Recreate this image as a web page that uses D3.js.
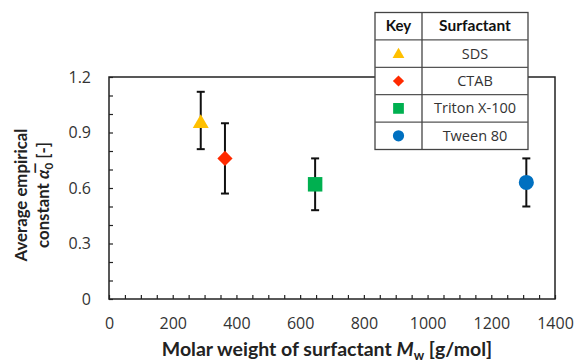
<!DOCTYPE html>
<html><head><meta charset="utf-8">
<script src="https://cdn.jsdelivr.net/npm/d3@7"></script>
<style>body{margin:0;background:#fff}svg{display:block}</style>
</head><body>
<script>
const surfactants = ["SDS", "CTAB", "Triton X-100", "Tween 80"];
const molarWeight = [288, 364, 647, 1310];
const alpha0 = [0.96, 0.76, 0.62, 0.63];
const errLow = [0.15, 0.19, 0.14, 0.13];
const errHigh = [0.16, 0.19, 0.14, 0.13];
const colors = ["#FFC000", "#FF2A00", "#00B050", "#0070C0"];
const shapes = ["triangle", "diamond", "square", "circle"];
const xTicks = [0, 200, 400, 600, 800, 1000, 1200, 1400];
const yTicks = [0, 0.3, 0.6, 0.9, 1.2];

const W = 576, H = 362;
const m = {left: 109, right: 21, top: 77, bottom: 63};
const svg = d3.select("body").append("svg").attr("width", W).attr("height", H);
const x = d3.scaleLinear().domain([0, 1400]).range([m.left, W - m.right]);
const y = d3.scaleLinear().domain([0, 1.2]).range([H - m.bottom, m.top]);
const tickFont = "'Open Sans', 'DejaVu Sans', sans-serif";
const titleFont = "Lato, 'Open Sans', sans-serif";

// frame
svg.append("rect").attr("x", x(0)).attr("y", y(1.2)).attr("width", x(1400) - x(0)).attr("height", y(0) - y(1.2))
  .attr("fill", "none").attr("stroke", "#222").attr("stroke-width", 1.5);

// minor/major ticks inside
const xAx = d3.axisBottom(x).tickValues(d3.range(0, 1401, 50)).tickSize(-4).tickFormat("");
svg.append("g").attr("transform", `translate(0,${y(0)})`).call(xAx)
  .call(g => { g.select(".domain").remove(); g.selectAll("line").attr("stroke", "#222").attr("stroke-width", 1.2); });
const yAx = d3.axisLeft(y).tickValues(d3.range(0, 13).map(d => d / 10)).tickSize(-4).tickFormat("");
svg.append("g").attr("transform", `translate(${x(0)},0)`).call(yAx)
  .call(g => { g.select(".domain").remove(); g.selectAll("line").attr("stroke", "#222").attr("stroke-width", 1.2); });

// tick labels
const xL = d3.axisBottom(x).tickValues(xTicks).tickSize(0).tickPadding(19).tickFormat(d3.format("d"));
svg.append("g").attr("transform", `translate(0,${y(0)})`).call(xL)
  .call(g => { g.select(".domain").remove(); g.selectAll("text").attr("font-family", tickFont).attr("font-size", 16).attr("fill", "#333"); });
const yL = d3.axisLeft(y).tickValues(yTicks).tickSize(0).tickPadding(18).tickFormat(d => d === 0 ? "0" : d3.format(".1f")(d));
svg.append("g").attr("transform", `translate(${x(0)},0)`).call(yL)
  .call(g => { g.select(".domain").remove(); g.selectAll("text").attr("font-family", tickFont).attr("font-size", 16).attr("fill", "#333"); });

// error bars
const data = surfactants.map((s, i) => ({s, x: molarWeight[i], y: alpha0[i], lo: errLow[i], hi: errHigh[i], c: colors[i], sh: shapes[i]}));
const eb = svg.append("g").attr("stroke", "#111").attr("stroke-width", 2);
data.forEach(d => {
  eb.append("line").attr("x1", x(d.x)).attr("x2", x(d.x)).attr("y1", y(d.y - d.lo)).attr("y2", y(d.y + d.hi));
  [d.y - d.lo, d.y + d.hi].forEach(v => eb.append("line").attr("x1", x(d.x) - 4).attr("x2", x(d.x) + 4).attr("y1", y(v)).attr("y2", y(v)));
});

function symbolPath(sh, scale) {
  if (sh === "triangle") return d3.symbol(d3.symbolTriangle, 110 * scale)();
  if (sh === "diamond") return d3.symbol(d3.symbolSquare, 115 * scale)();
  if (sh === "square") return d3.symbol(d3.symbolSquare, 210 * scale)();
  return d3.symbol(d3.symbolCircle, 180 * scale)();
}
svg.append("g").selectAll("path").data(data).join("path")
  .attr("d", d => symbolPath(d.sh, 1))
  .attr("transform", d => `translate(${x(d.x)},${y(d.y) + (d.sh === "triangle" ? 2 : 0)})` + (d.sh === "diamond" ? " rotate(45)" : ""))
  .attr("fill", d => d.c);

// legend table
const lx = 375, ly = 12.5, c1 = 47, c2 = 106, rh = 27.4;
const lg = svg.append("g");
lg.append("rect").attr("x", lx).attr("y", ly).attr("width", c1 + c2).attr("height", rh * 5).attr("fill", "#fff").attr("stroke", "#444").attr("stroke-width", 1.3);
for (let i = 1; i < 5; i++) lg.append("line").attr("x1", lx).attr("x2", lx + c1 + c2).attr("y1", ly + rh * i).attr("y2", ly + rh * i).attr("stroke", "#555").attr("stroke-width", 1.3);
lg.append("line").attr("x1", lx + c1).attr("x2", lx + c1).attr("y1", ly).attr("y2", ly + rh * 5).attr("stroke", "#444").attr("stroke-width", 1.3);
lg.append("text").attr("x", lx + c1 / 2).attr("y", ly + rh / 2 + 5).attr("text-anchor", "middle").attr("font-family", titleFont).attr("font-weight", "bold").attr("font-size", 15).attr("fill", "#111").text("Key");
lg.append("text").attr("x", lx + c1 + c2 / 2).attr("y", ly + rh / 2 + 5).attr("text-anchor", "middle").attr("font-family", titleFont).attr("font-weight", "bold").attr("font-size", 15.5).attr("fill", "#111").text("Surfactant");
data.forEach((d, i) => {
  const cy = ly + rh * (i + 1.5);
  lg.append("path").attr("d", symbolPath(d.sh, 0.55))
    .attr("transform", `translate(${lx + c1 / 2},${cy + (d.sh === "triangle" ? 1 : 0)})` + (d.sh === "diamond" ? " rotate(45)" : ""))
    .attr("fill", d.c);
  lg.append("text").attr("x", lx + c1 + c2 / 2).attr("y", cy + 5).attr("text-anchor", "middle").attr("font-family", tickFont).attr("font-size", 14.5).attr("fill", "#333").text(d.s);
});

// axis titles
const xt = svg.append("text").attr("x", 327).attr("y", 356).attr("text-anchor", "middle").attr("font-family", titleFont).attr("font-weight", "bold").attr("font-size", 19.5).attr("fill", "#222");
xt.append("tspan").text("Molar weight of surfactant ");
xt.append("tspan").attr("font-style", "italic").text("M");
xt.append("tspan").attr("font-size", 13).attr("dy", 4).text("w");
xt.append("tspan").attr("dy", -4).text(" [g/mol]");

const yt = svg.append("g").attr("transform", "translate(0,195) rotate(-90)");
yt.append("text").attr("x", 0).attr("y", 27).attr("text-anchor", "middle").attr("font-family", titleFont).attr("font-weight", "bold").attr("font-size", 16.8).attr("fill", "#222").text("Average empirical");
const yt2 = yt.append("text").attr("x", 0).attr("y", 49).attr("text-anchor", "middle").attr("font-family", titleFont).attr("font-weight", "bold").attr("font-size", 16.8).attr("fill", "#222");
yt2.append("tspan").text("constant ");
yt2.append("tspan").attr("font-style", "italic").text("α\u0305");
yt2.append("tspan").attr("font-size", 11.5).attr("dy", 4).text("0");
yt2.append("tspan").attr("dy", -4).text(" [-]");
</script>
</body></html>
